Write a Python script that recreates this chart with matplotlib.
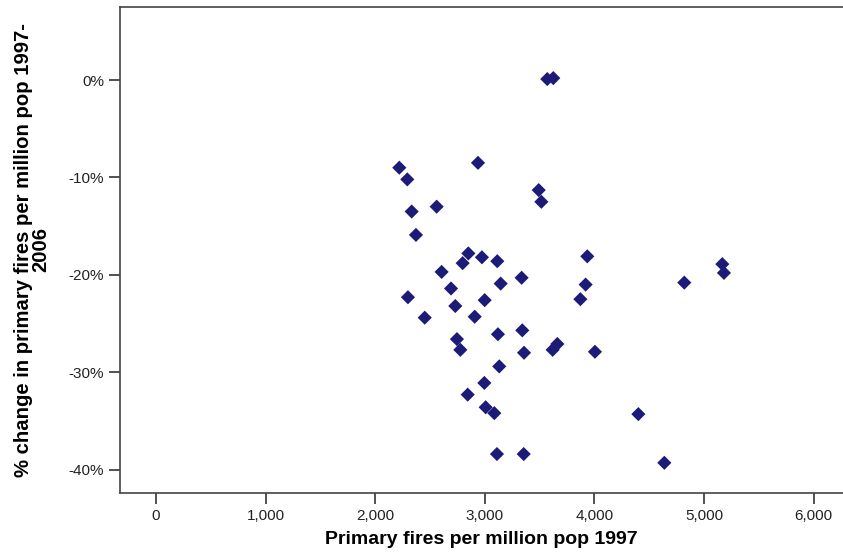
import numpy as np
import matplotlib.pyplot as plt
from matplotlib.ticker import FuncFormatter

# primary fires per million pop 1997
fires_1997 = [3570, 3625, 2220, 2293, 2938, 3492, 3516, 2333, 2561, 2372,
              2850, 2974, 3114, 3935, 2798, 2606, 3336, 3145, 3920, 2692,
              2299, 2999, 3872, 2731, 2452, 2908, 3342, 3120, 2746, 2777,
              3358, 3619, 3662, 4005, 3132, 2996, 2844, 3008, 3087, 3111,
              3355, 4401, 4638, 4820, 5167, 5182]
# % change 1997-2006
pct_change = [0.1, 0.2, -9.0, -10.2, -8.5, -11.3, -12.5, -13.5, -13.0, -15.9,
              -17.8, -18.2, -18.6, -18.1, -18.8, -19.7, -20.3, -20.9, -21.0, -21.4,
              -22.3, -22.6, -22.5, -23.2, -24.4, -24.3, -25.7, -26.1, -26.6, -27.7,
              -28.0, -27.7, -27.1, -27.9, -29.4, -31.1, -32.3, -33.6, -34.2, -38.4,
              -38.4, -34.3, -39.3, -20.8, -18.9, -19.8]

x_ticks = [0, 1000, 2000, 3000, 4000, 5000, 6000]
y_ticks = [0, -10, -20, -30, -40]

plt.rcParams['font.family'] = ['Liberation Sans', 'DejaVu Sans']

fig = plt.figure(figsize=(8.43, 5.57), dpi=100)
ax = fig.add_axes([120/843, 1 - 493/557, 1 - 120/843, (493 - 7)/557])

ax.scatter(fires_1997, pct_change, marker='D', s=52, color='#1c1c78',
           edgecolors='none', zorder=3)

ax.set_xlim(-328, 6268)
ax.set_ylim(-42.4, 7.5)
ax.set_xticks(x_ticks)
ax.set_yticks(y_ticks)
ax.xaxis.set_major_formatter(FuncFormatter(lambda v, p: f'{int(v):,}'))
ax.yaxis.set_major_formatter(FuncFormatter(lambda v, p: f'{int(v)}%'))

for side in ['left', 'bottom', 'top']:
    ax.spines[side].set_color('#444444')
    ax.spines[side].set_linewidth(1.2)
ax.spines['right'].set_visible(False)
ax.tick_params(axis='both', length=8, width=1.2, color='#333333',
               labelsize=11, labelcolor='#222222', pad=3.5)

ax.set_xlabel('Primary fires per million pop 1997', fontsize=14,
              fontweight='bold', labelpad=6)
ax.set_ylabel('% change in primary fires per million pop 1997-\n2006',
              fontsize=14.6, fontweight='bold', labelpad=13, linespacing=0.9)

fig.savefig('out.png', dpi=100)
